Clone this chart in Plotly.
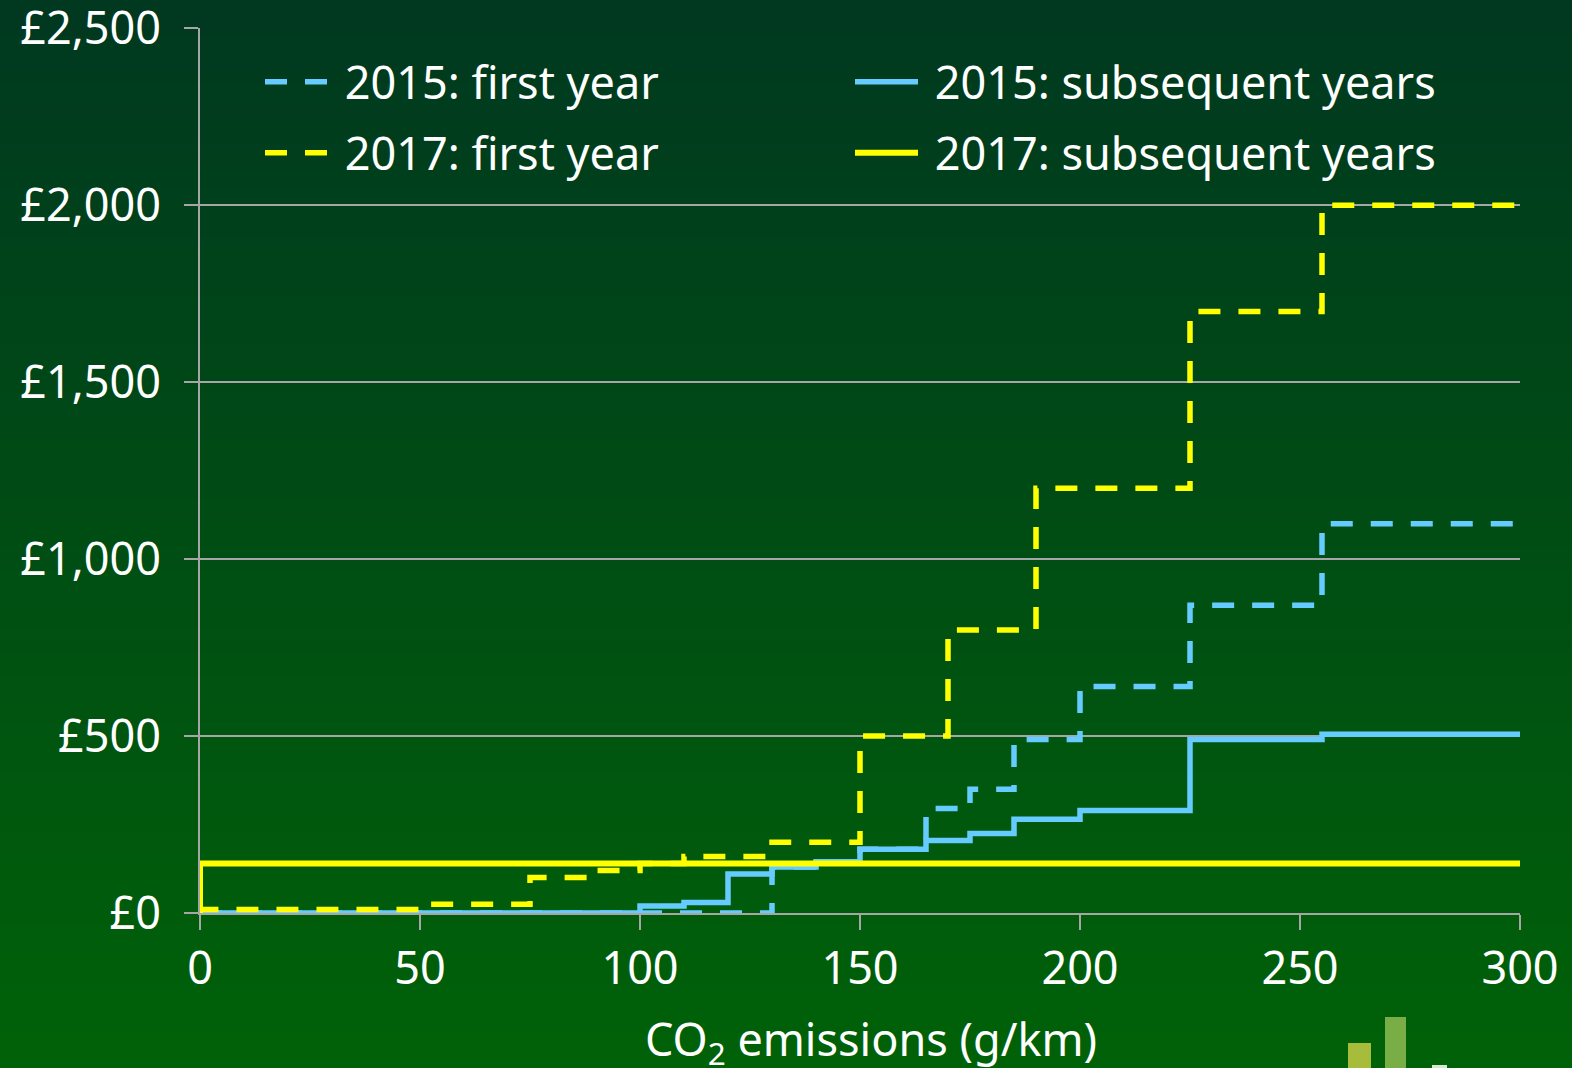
import plotly.graph_objects as go

# ---------------- data ----------------
band_edges_2015 = [0, 100, 110, 120, 130, 140, 150, 165, 175, 185, 200, 225, 255, 300]
ved2015_first = [0, 0, 0, 0, 130, 145, 180, 295, 350, 490, 640, 870, 1100]
ved2015_subsequent = [0, 20, 30, 110, 130, 145, 180, 205, 225, 265, 290, 490, 505]

band_edges_2017 = [0, 50, 75, 90, 100, 110, 130, 150, 170, 190, 225, 255, 300]
ved2017_first = [10, 25, 100, 120, 140, 160, 200, 500, 800, 1200, 1700, 2000]
ved2017_subsequent_edges = [0, 300]
ved2017_subsequent = [140]
zero_emission_value = 0

y_ticks = [0, 500, 1000, 1500, 2000, 2500]
y_ticklabels = ["£0", "£500", "£1,000", "£1,500", "£2,000", "£2,500"]
x_ticks = [0, 50, 100, 150, 200, 250, 300]
x_title = "CO<sub>2</sub> emissions (g/km)"

BLUE = "#66CCFF"
YELLOW = "#FFFF00"
GRID = "#A6A6A6"
FONT = "Noto Sans"
FS = 45
LW = 5.5


def step_xy(edges, values, start_zero=False):
    xs = list(edges)
    ys = list(values) + [values[-1]]
    if start_zero:
        xs = [edges[0]] + xs
        ys = [zero_emission_value] + ys
    return xs, ys


fig = go.Figure()

x, y = step_xy(band_edges_2015, ved2015_first)
fig.add_trace(go.Scatter(x=x, y=y, mode="lines", line_shape="hv", name=" 2015: first year",
                         line=dict(color=BLUE, width=LW, dash="22px,18px"), cliponaxis=False,
                         legend="legend"))
x, y = step_xy(band_edges_2015, ved2015_subsequent)
fig.add_trace(go.Scatter(x=x, y=y, mode="lines", line_shape="hv", name=" 2015: subsequent years",
                         line=dict(color=BLUE, width=LW), cliponaxis=False, legend="legend"))
x, y = step_xy(band_edges_2017, ved2017_first, start_zero=True)
fig.add_trace(go.Scatter(x=x, y=y, mode="lines", line_shape="hv", name=" 2017: first year",
                         line=dict(color=YELLOW, width=LW, dash="22px,18px"), cliponaxis=False,
                         legend="legend2"))
x, y = step_xy(ved2017_subsequent_edges, ved2017_subsequent, start_zero=True)
fig.add_trace(go.Scatter(x=x, y=y, mode="lines", line_shape="hv", name=" 2017: subsequent years",
                         line=dict(color=YELLOW, width=6), cliponaxis=False, legend="legend2"))

# ---------------- background gradient ----------------
W, H = 1572, 1068
L, R, T, B = 200, 52, 28, 155
pw, ph = W - L - R, H - T - B
top_rgb = (0, 56, 32)
bot_rgb = (0, 98, 8)
n = 90
shapes = []
for i in range(n):
    f0 = i / n
    f1 = (i + 1) / n
    fm = (f0 + f1) / 2
    c = tuple(int(round(top_rgb[k] + (bot_rgb[k] - top_rgb[k]) * fm)) for k in range(3))
    py0 = f0 * H
    py1 = f1 * H + 1
    shapes.append(dict(type="rect", xref="paper", yref="paper",
                       x0=-L / pw, x1=1 + R / pw,
                       y0=(H - B - py1) / ph, y1=(H - B - py0) / ph,
                       fillcolor="rgb(%d,%d,%d)" % c, line=dict(width=0), layer="below"))


# decorative logo fragment bottom right
def px_rect(x0, y0, x1, y1, color):
    return dict(type="rect", xref="paper", yref="paper",
                x0=(x0 - L) / pw, x1=(x1 - L) / pw,
                y0=(H - B - y1) / ph, y1=(H - B - y0) / ph,
                fillcolor=color, line=dict(width=0), layer="above")


shapes.append(px_rect(1348, 1043, 1371, 1070, "#A8BC3C"))
shapes.append(px_rect(1385, 1017, 1406, 1070, "#79AD46"))
shapes.append(px_rect(1432, 1065, 1447, 1070, "#D8E8D0"))


def legend_cfg(center_px):
    return dict(orientation="h", x=(260 - L) / pw, y=1 - (center_px - T) / ph,
                xanchor="left", yanchor="middle",
                entrywidth=512, entrywidthmode="pixels", bgcolor="rgba(0,0,0,0)",
                font=dict(family=FONT, size=FS, color="white"), itemwidth=63)


fig.update_layout(
    width=W, height=H,
    margin=dict(l=L, r=R, t=T, b=B, pad=0, autoexpand=False),
    paper_bgcolor="#004818",
    plot_bgcolor="rgba(0,0,0,0)",
    font=dict(family=FONT, size=FS, color="white"),
    shapes=shapes,
    showlegend=True,
    legend=legend_cfg(82),
    legend2=legend_cfg(153),
    xaxis=dict(range=[0, 300], tickvals=x_ticks, showgrid=False, zeroline=False, automargin=False,
               showline=True, linecolor=GRID, linewidth=2, ticks="outside", ticklen=15, tickwidth=2,
               tickcolor=GRID, tickfont=dict(size=FS, color="white"), ticklabeloverflow="allow"),
    yaxis=dict(range=[0, 2501], tickvals=y_ticks, ticktext=y_ticklabels, showgrid=True, gridcolor=GRID,
               gridwidth=2, zeroline=False, showline=True, linecolor=GRID, linewidth=2, automargin=False,
               ticks="outside", ticklen=14, tickwidth=2, tickcolor=GRID, ticklabeloverflow="allow",
               tickfont=dict(size=FS, color="white"), ticklabelstandoff=14),
    annotations=[dict(text=x_title, xref="paper", yref="paper",
                      x=(871 - L) / pw, y=(H - B - 1041) / ph, xanchor="center", yanchor="middle",
                      showarrow=False, font=dict(family=FONT, size=FS, color="white"))],
)

fig.write_html("out.html", config={"displayModeBar": False},
               post_script="document.body.style.margin='0';document.body.style.padding='0';"
                           "document.body.style.overflow='hidden';")
